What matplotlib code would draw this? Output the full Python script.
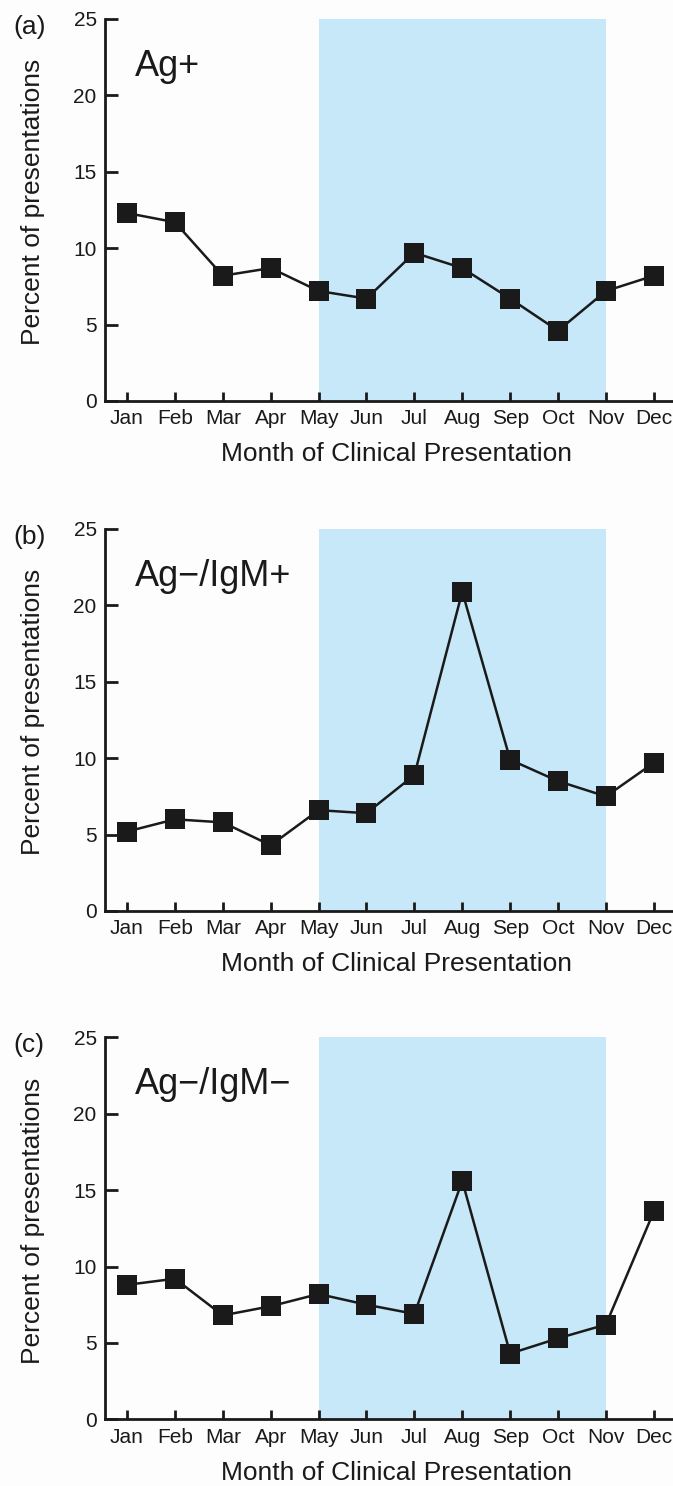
import matplotlib
matplotlib.use('Agg')
import matplotlib.pyplot as plt

plt.rcParams['font.family'] = ['Liberation Sans', 'DejaVu Sans']

# Data
months = ['Jan', 'Feb', 'Mar', 'Apr', 'May', 'Jun',
          'Jul', 'Aug', 'Sep', 'Oct', 'Nov', 'Dec']
ag_pos = [12.3, 11.7, 8.2, 8.7, 7.2, 6.7, 9.7, 8.7, 6.7, 4.6, 7.2, 8.2]
ag_neg_igm_pos = [5.2, 6.0, 5.8, 4.3, 6.6, 6.4, 8.9, 20.9, 9.9, 8.5, 7.5, 9.7]
ag_neg_igm_neg = [8.8, 9.2, 6.8, 7.4, 8.2, 7.5, 6.9, 15.6, 4.3, 5.3, 6.2, 13.6]

series = [ag_pos, ag_neg_igm_pos, ag_neg_igm_neg]
titles = ['Ag+', 'Ag\u2212/IgM+', 'Ag\u2212/IgM\u2212']
panel_tags = ['(a)', '(b)', '(c)']
yticks = [0, 5, 10, 15, 20, 25]
shade_start = 'May'
shade_end = 'Nov'

# Layout (figure fraction)
W, H = 673, 1486
left = 105 / W
height = 382 / H
bottoms = [1 - 401 / H, 1 - 911 / H, 1 - 1419.3 / H]

shade_col = '#c6e8f9'
ink = '#1a1a1a'

fig = plt.figure(figsize=(W / 100, H / 100), dpi=100)
fig.patch.set_facecolor('#fdfdfd')

x = list(range(len(months)))
for vals, title, tag, bot in zip(series, titles, panel_tags, bottoms):
    ax = fig.add_axes([left, bot, 1 - left, height])
    ax.set_facecolor('#fdfdfd')
    ax.axvspan(months.index(shade_start), months.index(shade_end),
               color=shade_col, lw=0, zorder=0)
    ax.plot(x, vals, '-s', color=ink, lw=1.8, markersize=14,
            markeredgewidth=0, zorder=3)
    ax.set_xlim(-0.46, 11.4)
    ax.set_ylim(0, 25)
    ax.set_xticks(x)
    ax.set_xticklabels(months)
    ax.set_yticks(yticks)
    for s in ['top', 'right']:
        ax.spines[s].set_visible(False)
    for s in ['left', 'bottom']:
        ax.spines[s].set_linewidth(2.0)
        ax.spines[s].set_color(ink)
    ax.tick_params(axis='y', direction='in', length=9.5, width=2.0,
                   pad=6, labelsize=15, colors=ink)
    ax.tick_params(axis='x', direction='in', length=6.5, width=2.0,
                   pad=6, labelsize=15, colors=ink)
    ax.set_xlabel('Month of Clinical Presentation', fontsize=19, color=ink)
    ax.xaxis.set_label_coords(0.514, -0.108)
    ax.set_ylabel('Percent of presentations', fontsize=19, color=ink)
    ax.yaxis.set_label_coords(-0.106, 0.52)
    ax.text(0.17, 21.3, title, fontsize=26, color=ink,
            ha='left', va='baseline')
    ax.text(-0.162, 0.98, tag, transform=ax.transAxes, fontsize=19,
            color=ink, ha='left', va='center')

fig.savefig('out.png', dpi=100, facecolor=fig.get_facecolor())
